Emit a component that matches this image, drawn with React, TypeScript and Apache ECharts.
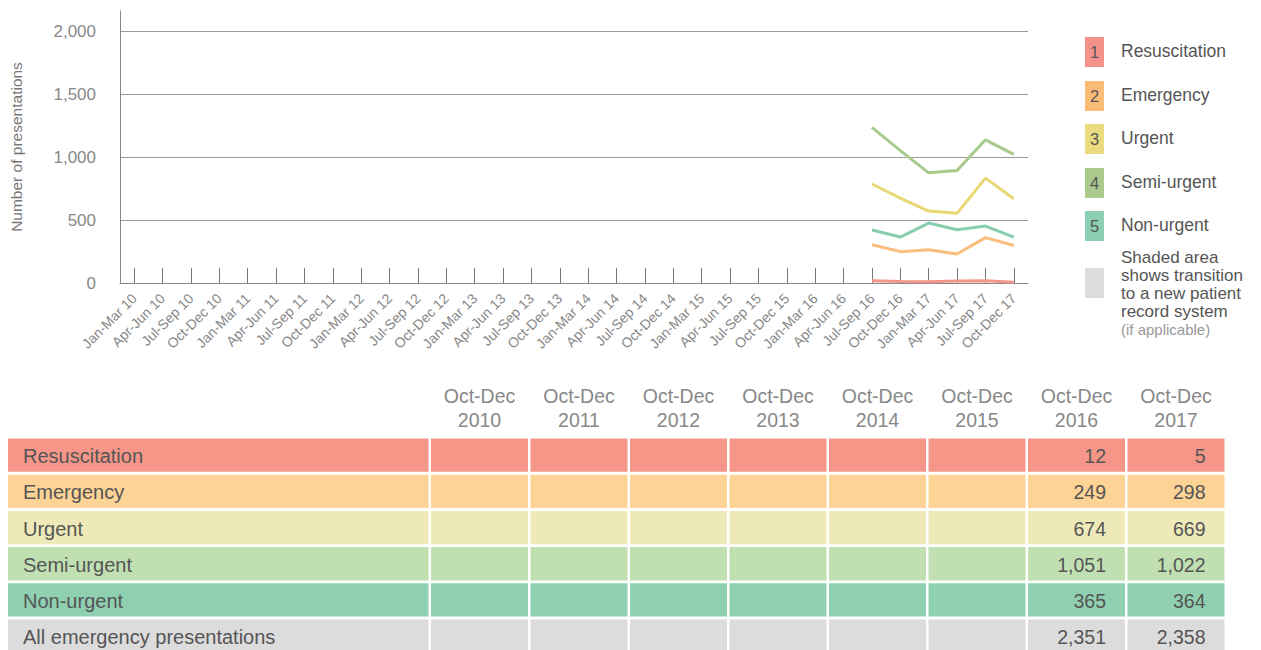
import React, { useEffect, useRef } from "react";
import * as echarts from "echarts";

const quarters = [
  "Jan-Mar 10", "Apr-Jun 10", "Jul-Sep 10", "Oct-Dec 10",
  "Jan-Mar 11", "Apr-Jun 11", "Jul-Sep 11", "Oct-Dec 11",
  "Jan-Mar 12", "Apr-Jun 12", "Jul-Sep 12", "Oct-Dec 12",
  "Jan-Mar 13", "Apr-Jun 13", "Jul-Sep 13", "Oct-Dec 13",
  "Jan-Mar 14", "Apr-Jun 14", "Jul-Sep 14", "Oct-Dec 14",
  "Jan-Mar 15", "Apr-Jun 15", "Jul-Sep 15", "Oct-Dec 15",
  "Jan-Mar 16", "Apr-Jun 16", "Jul-Sep 16", "Oct-Dec 16",
  "Jan-Mar 17", "Apr-Jun 17", "Jul-Sep 17", "Oct-Dec 17",
];

const dataQuarters = ["Jul-Sep 16", "Oct-Dec 16", "Jan-Mar 17", "Apr-Jun 17", "Jul-Sep 17", "Oct-Dec 17"];
const resuscitation = [18, 12, 10, 15, 18, 5];
const emergency = [304, 249, 264, 230, 360, 298];
const urgent = [786, 674, 571, 553, 833, 669];
const semiUrgent = [1236, 1051, 875, 894, 1137, 1022];
const nonUrgent = [421, 365, 476, 423, 452, 364];

const categoryNames = ["Resuscitation", "Emergency", "Urgent", "Semi-urgent", "Non-urgent"];
const lineColors = ["#f2958a", "#fbbd7c", "#e8d772", "#a8ca8b", "#88cdae"];
const legendColors = ["#f4928a", "#fbbc78", "#eadb7e", "#abca8e", "#8ccfb3"];

const tableYears = ["2010", "2011", "2012", "2013", "2014", "2015", "2016", "2017"];
const tableRows = ["Resuscitation", "Emergency", "Urgent", "Semi-urgent", "Non-urgent", "All emergency presentations"];
const tableRowColors = ["#f69689", "#fdd396", "#ede9b8", "#c0e0b2", "#8fd0b1", "#dcdcdd"];
const octDec2016 = [12, 249, 674, 1051, 365, 2351];
const octDec2017 = [5, 298, 669, 1022, 364, 2358];

const FONT = "'Liberation Sans', Arial, sans-serif";

export default function App() {
  const ref = useRef<HTMLDivElement>(null);
  useEffect(() => {
    document.body.style.margin = "0";
    const chart = echarts.init(ref.current!, null, { renderer: "svg" });
    const seriesValues = [resuscitation, emergency, urgent, semiUrgent, nonUrgent];

    const graphics: any[] = [];
    // Legend
    const legendY = [37, 81, 124, 168, 211];
    categoryNames.forEach((name, i) => {
      graphics.push({
        type: "rect",
        shape: { x: 1085, y: legendY[i], width: 19, height: 30 },
        style: { fill: legendColors[i] },
      });
      graphics.push({
        type: "text",
        x: 1094.5,
        y: legendY[i] + 15,
        style: { text: String(i + 1), fill: "#555", font: `16.5px ${FONT}`, align: "center", verticalAlign: "middle" },
      });
      graphics.push({
        type: "text",
        x: 1121,
        y: legendY[i] + 14,
        style: { text: name, fill: "#555", font: `17.5px ${FONT}`, verticalAlign: "middle" },
      });
    });
    graphics.push({
      type: "rect",
      shape: { x: 1085, y: 268, width: 19, height: 30 },
      style: { fill: "#dcdcdc" },
    });
    ["Shaded area", "shows transition", "to a new patient", "record system"].forEach((t, i) => {
      graphics.push({
        type: "text",
        x: 1121,
        y: 257 + i * 18,
        style: { text: t, fill: "#555", font: `17px ${FONT}`, verticalAlign: "middle" },
      });
    });
    graphics.push({
      type: "text",
      x: 1121,
      y: 329,
      style: { text: "(if applicable)", fill: "#999", font: `15px ${FONT}`, verticalAlign: "middle" },
    });

    // Table
    const colX = (i: number) => 431 + i * 99.5;
    const colW = 97;
    tableYears.forEach((yr, i) => {
      const cx = colX(i) + colW / 2;
      graphics.push({
        type: "text", x: cx, y: 396,
        style: { text: "Oct-Dec", fill: "#888", font: `19.5px ${FONT}`, align: "center", verticalAlign: "middle" },
      });
      graphics.push({
        type: "text", x: cx, y: 420,
        style: { text: yr, fill: "#888", font: `19.5px ${FONT}`, align: "center", verticalAlign: "middle" },
      });
    });
    tableRows.forEach((row, r) => {
      const y = 438.5 + r * 36.2;
      const h = 33.3;
      graphics.push({
        type: "rect", shape: { x: 8, y, width: 420.5, height: h }, style: { fill: tableRowColors[r] },
      });
      graphics.push({
        type: "text", x: 23, y: y + h / 2 + 1,
        style: { text: row, fill: "#555", font: `20px ${FONT}`, verticalAlign: "middle" },
      });
      tableYears.forEach((yr, i) => {
        graphics.push({
          type: "rect", shape: { x: colX(i), y, width: colW, height: h }, style: { fill: tableRowColors[r] },
        });
      });
      const vals = [octDec2016[r], octDec2017[r]];
      vals.forEach((v, k) => {
        const ci = 6 + k;
        graphics.push({
          type: "text", x: colX(ci) + colW - 19, y: y + h / 2 + 1,
          style: { text: v.toLocaleString("en-US"), fill: "#555", font: `19.5px ${FONT}`, align: "right", verticalAlign: "middle" },
        });
      });
    });

    chart.setOption({
      animation: false,
      textStyle: { fontFamily: FONT },
      grid: { left: 120, right: 233, top: 11, bottom: 367, containLabel: false },
      xAxis: {
        type: "category",
        data: quarters,
        boundaryGap: true,
        axisLine: { show: true, lineStyle: { color: "#888", width: 1 } },
        axisTick: { show: true, alignWithLabel: true, inside: true, length: 15, lineStyle: { color: "#777" } },
        axisLabel: { rotate: 45, interval: 0, fontSize: 14, color: "#888", margin: 13 },
        splitLine: { show: false },
      },
      yAxis: {
        type: "value",
        min: 0,
        max: 2160,
        interval: 500,
        name: "Number of presentations",
        nameLocation: "middle",
        nameGap: 96,
        nameTextStyle: { fontSize: 15.5, color: "#777" },
        axisLine: { show: true, lineStyle: { color: "#888", width: 1 } },
        axisTick: { show: false },
        axisLabel: {
          fontSize: 17,
          color: "#888",
          margin: 24,
          showMaxLabel: false,
          formatter: (v: number) => (v % 500 === 0 ? v.toLocaleString("en-US") : ""),
        },
        splitLine: { show: true, showMaxLine: false, lineStyle: { color: "#999", width: 1 } },
      },
      series: seriesValues.map((vals, i) => ({
        name: categoryNames[i],
        type: "line",
        symbol: "none",
        data: vals.map((v, k) => [dataQuarters[k], v]),
        lineStyle: { color: lineColors[i], width: 3 },
        itemStyle: { color: lineColors[i] },
        z: 3,
      })),
      graphic: graphics,
    });
    return () => chart.dispose();
  }, []);
  return <div ref={ref} style={{ width: 1261, height: 650 }} />;
}
